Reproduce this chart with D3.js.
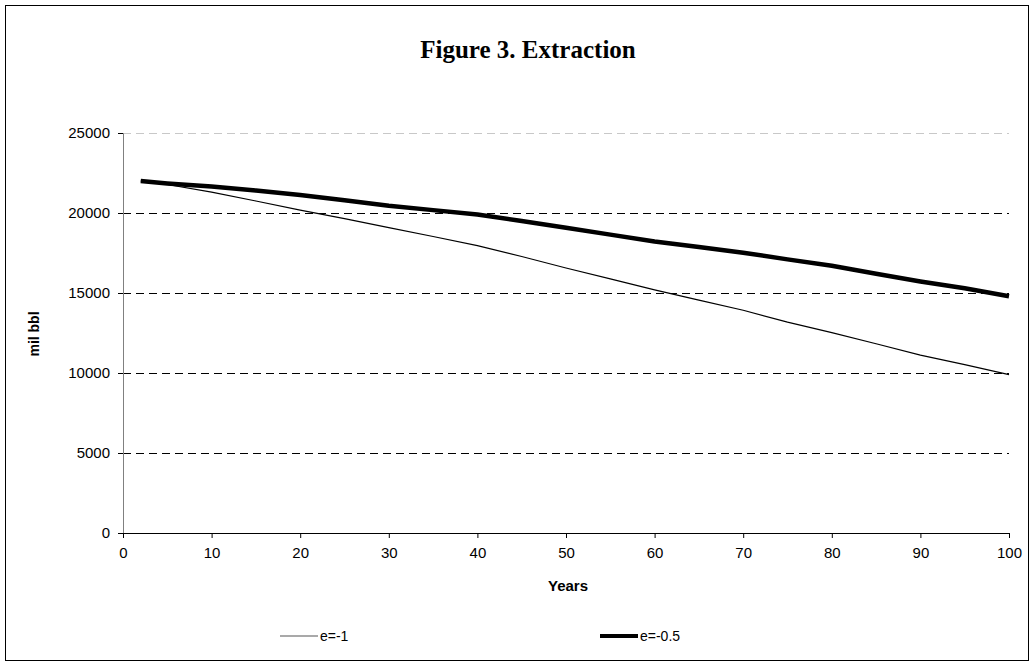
<!DOCTYPE html>
<html>
<head>
<meta charset="utf-8">
<script src="https://cdn.jsdelivr.net/npm/d3@7"></script>
<style>
  body { margin: 0; background: #fff; }
  .axis text { font-family: "Liberation Sans", Arial, sans-serif; font-size: 15px; fill: #000; }
</style>
</head>
<body>
<div id="chart"></div>
<script>
// years on the x axis
const years = [2, 5, 10, 15, 20, 25, 30, 35, 40, 45, 50, 55, 60, 65, 70, 75, 80, 85, 90, 95, 100];
// extraction, mil bbl
const extractionE1 = [22000, 21780, 21300, 20750, 20180, 19650, 19090, 18530, 17960, 17280, 16560,
    15880, 15200, 14550, 13920, 13180, 12520, 11830, 11120, 10520, 9900];
const extractionE05 = [22000, 21850, 21650, 21400, 21120, 20800, 20450, 20180, 19900, 19500, 19080,
    18650, 18220, 17870, 17520, 17100, 16700, 16200, 15720, 15300, 14800];
const xTicks = [0, 10, 20, 30, 40, 50, 60, 70, 80, 90, 100];
const yTicks = [0, 5000, 10000, 15000, 20000, 25000];
const seriesNames = ["e=-1", "e=-0.5"];

const W = 1034, H = 667;
const margin = {top: 133, right: 25, bottom: 134, left: 123};
const width = W - margin.left - margin.right;
const height = H - margin.top - margin.bottom;

const svg = d3.select("#chart").append("svg")
    .attr("width", W)
    .attr("height", H);

// outer frame
svg.append("rect")
    .attr("x", 5.5).attr("y", 5.5)
    .attr("width", 1023).attr("height", 655)
    .attr("fill", "none").attr("stroke", "#000").attr("stroke-width", 1);

svg.append("text")
    .attr("x", 528).attr("y", 58)
    .attr("text-anchor", "middle")
    .style("font-family", "'Liberation Serif', 'Times New Roman', serif")
    .style("font-weight", "bold")
    .style("font-size", "25px")
    .text("Figure 3. Extraction");

const g = svg.append("g")
    .attr("transform", "translate(" + margin.left + "," + margin.top + ")");

let x = d3.scaleLinear().domain([0, 100]).range([0, width]);
let y = d3.scaleLinear().domain([0, 25000]).range([height, 0]);

// gridlines
g.selectAll(".grid")
    .data(yTicks.filter(d => d > 0))
    .enter().append("line")
    .attr("class", "grid")
    .attr("x1", 0).attr("x2", width)
    .attr("y1", d => Math.round(y(d)) + 0.5)
    .attr("y2", d => Math.round(y(d)) + 0.5)
    .attr("stroke", d => d === 25000 ? "#c8c8c8" : "#000")
    .attr("stroke-dasharray", "8,5");

// axes
let yAxis = d3.axisLeft(y).tickValues(yTicks).tickSize(5).tickPadding(8).tickFormat(d3.format("d"));
let yG = g.append("g").attr("class", "axis").call(yAxis);
yG.select(".domain").attr("stroke", "#808080");
yG.selectAll(".tick line").attr("stroke", "#000");

let xAxis = d3.axisBottom(x).tickValues(xTicks).tickSize(5).tickPadding(9).tickFormat(d3.format("d"));
let xG = g.append("g").attr("class", "axis")
    .attr("transform", "translate(0," + height + ")")
    .call(xAxis);
xG.select(".domain").attr("stroke", "#000");

// lines
let line = d3.line()
    .x((d, i) => x(years[i]))
    .y(d => y(d));

g.append("path")
    .datum(extractionE1)
    .attr("d", line)
    .attr("fill", "none")
    .attr("stroke", "#000")
    .attr("stroke-width", 1.2);

g.append("path")
    .datum(extractionE05)
    .attr("d", line)
    .attr("fill", "none")
    .attr("stroke", "#000")
    .attr("stroke-width", 4.5)
    .attr("stroke-linejoin", "round");

// axis titles
svg.append("text")
    .attr("transform", "translate(39,334) rotate(-90)")
    .attr("text-anchor", "middle")
    .style("font-family", "'Liberation Sans', Arial, sans-serif")
    .style("font-weight", "bold")
    .style("font-size", "14px")
    .text("mil bbl");

svg.append("text")
    .attr("x", 568).attr("y", 591)
    .attr("text-anchor", "middle")
    .style("font-family", "'Liberation Sans', Arial, sans-serif")
    .style("font-weight", "bold")
    .style("font-size", "15px")
    .text("Years");

// legend
const legendX = [280, 600];
const legendW = [1.2, 4];
seriesNames.forEach(function(name, i) {
    svg.append("line")
        .attr("x1", legendX[i]).attr("x2", legendX[i] + 38)
        .attr("y1", 636).attr("y2", 636)
        .attr("stroke", i === 0 ? "#555" : "#000")
        .attr("stroke-width", legendW[i]);
    svg.append("text")
        .attr("x", legendX[i] + 40).attr("y", 641)
        .style("font-family", "'Liberation Sans', Arial, sans-serif")
        .style("font-size", "14px")
        .text(name);
});
</script>
</body>
</html>
